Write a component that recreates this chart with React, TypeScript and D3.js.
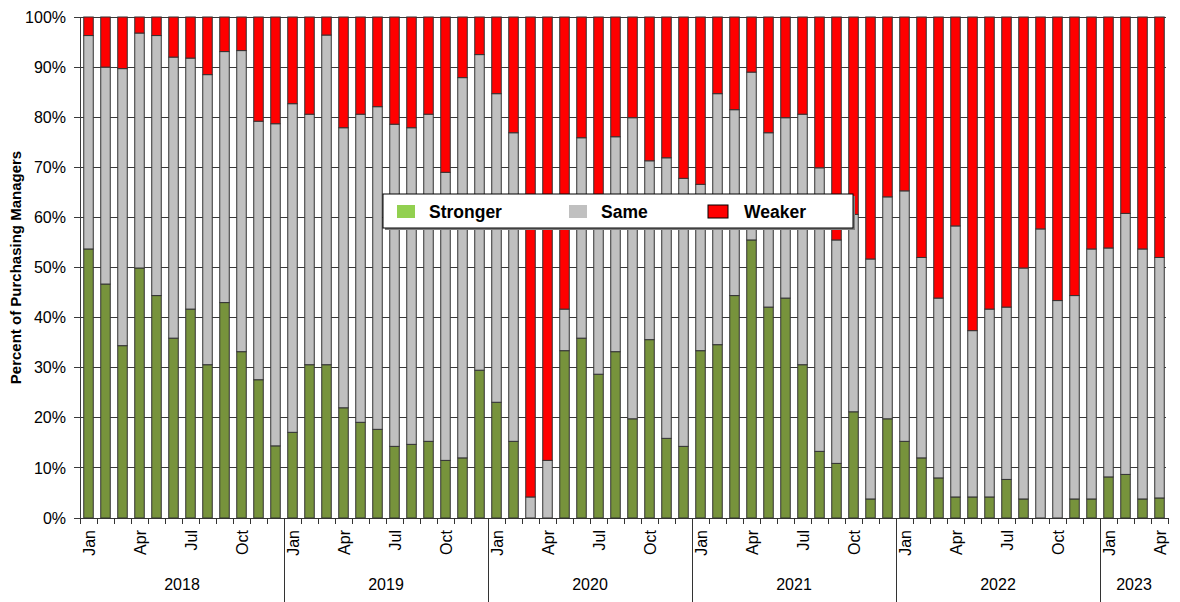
import * as d3 from "d3";

// monthly survey shares, Jan 2018 - Apr 2023 (percent of purchasing managers)
const years = ["2018", "2019", "2020", "2021", "2022", "2023"];
const monthNames = ["Jan", "Feb", "Mar", "Apr", "May", "Jun", "Jul", "Aug", "Sep", "Oct", "Nov", "Dec"];
const shownMonths = ["Jan", "Apr", "Jul", "Oct"];

const stronger = [
  53.7, 46.7, 34.4, 49.9, 44.4, 35.9, 41.7, 30.6, 43.0, 33.2, 27.6, 14.4,
  17.1, 30.6, 30.6, 22.0, 19.1, 17.7, 14.3, 14.7, 15.3, 11.5, 12.0, 29.5,
  23.1, 15.3, 0, 0, 33.4, 35.9, 28.7, 33.2, 19.8, 35.6, 15.9, 14.3,
  33.4, 34.6, 44.4, 55.5, 42.1, 43.9, 30.6, 13.3, 10.9, 21.2, 3.8, 19.8,
  15.3, 12.0, 8.0, 4.2, 4.2, 4.2, 7.7, 3.8, 0, 0, 3.8, 3.8,
  8.2, 8.7, 3.8, 4.0,
];
const same = [
  42.6, 43.3, 55.3, 46.9, 51.9, 56.1, 50.1, 57.9, 50.1, 60.1, 51.6, 64.3,
  65.6, 50.0, 65.8, 55.9, 61.5, 64.4, 64.3, 63.2, 65.3, 57.5, 75.9, 63.0,
  61.6, 61.6, 4.2, 11.5, 8.3, 40.0, 33.3, 42.9, 60.1, 35.7, 56.0, 53.5,
  33.2, 50.1, 37.1, 33.5, 34.8, 36.0, 50.0, 56.6, 44.6, 39.4, 47.9, 44.3,
  50.0, 40.0, 35.9, 54.1, 33.2, 37.5, 34.4, 46.1, 57.7, 43.4, 40.6, 49.9,
  45.7, 52.1, 49.9, 48.0,
];
const weaker = [
  3.7, 10.0, 10.3, 3.2, 3.7, 8.0, 8.2, 11.5, 6.9, 6.7, 20.8, 21.3,
  17.3, 19.4, 3.6, 22.1, 19.4, 17.9, 21.4, 22.1, 19.4, 31.0, 12.1, 7.5,
  15.3, 23.1, 95.8, 88.5, 58.3, 24.1, 38.0, 23.9, 20.1, 28.7, 28.1, 32.2,
  33.4, 15.3, 18.5, 11.0, 23.1, 20.1, 19.4, 30.1, 44.5, 39.4, 48.3, 35.9,
  34.7, 48.0, 56.1, 41.7, 62.6, 58.3, 57.9, 50.1, 42.3, 56.6, 55.6, 46.3,
  46.1, 39.2, 46.3, 48.0,
];

const seriesKeys = ["Stronger", "Same", "Weaker"];
const barColors = ["#77933C", "#C0C0C0", "#FF0000"];
const legendColors = ["#92D050", "#C0C0C0", "#FF0000"];

const categories = years
  .flatMap((yr) => monthNames.map((m) => ({ key: `${m} ${yr}`, month: m, year: yr })))
  .slice(0, stronger.length);

const rows = categories.map((c, i) => ({
  key: c.key,
  Stronger: stronger[i],
  Same: same[i],
  Weaker: weaker[i],
}));

const W = 1180;
const H = 602;
const left = 80;
const right = 1168;
const bottom = 518;
const top = 17;
const font = "Arial, 'Liberation Sans', sans-serif";

export default function App() {
  const x = d3
    .scaleBand()
    .domain(categories.map((c) => c.key))
    .range([left, right])
    .paddingInner(0.44)
    .paddingOuter(0.22);
  const step = x.step();
  const y = d3.scaleLinear().domain([0, 100]).range([bottom, top]);
  const stacked = d3.stack().keys(seriesKeys)(rows as any);
  const yTicks = d3.range(0, 101, 10);
  const color = d3.scaleOrdinal<string, string>().domain(seriesKeys).range(barColors);

  const boundary = (i: number) => left + i * step;

  const yearGroups = years
    .map((yr) => {
      const idx = categories.map((c, i) => (c.year === yr ? i : -1)).filter((i) => i >= 0);
      return { yr, first: idx[0], last: idx[idx.length - 1] };
    })
    .filter((g) => g.first !== undefined);

  return (
    <svg
      width={W}
      height={H}
      style={{ position: "absolute", left: 0, top: 0, background: "#fff" }}
      fontFamily={font}
    >
      {/* gridlines */}
      <g shapeRendering="crispEdges">
        {yTicks.map((t) => (
          <line key={t} x1={left - 6} x2={right - 2} y1={y(t)} y2={y(t)} stroke="#3a3a3a" strokeWidth={1} />
        ))}
        <line x1={left} x2={left} y1={top} y2={bottom} stroke="#3a3a3a" />
      </g>

      {/* bars */}
      {stacked.map((s) => (
        <g key={s.key} fill={color(s.key)} stroke="#333" strokeWidth={1}>
          {s.map((d, i) =>
            d[1] - d[0] > 0 ? (
              <rect
                key={i}
                x={x(categories[i].key)}
                width={x.bandwidth()}
                y={y(d[1])}
                height={y(d[0]) - y(d[1])}
              />
            ) : null
          )}
        </g>
      ))}

      {/* x axis */}
      <g stroke="#333" shapeRendering="crispEdges">
        <line x1={left} x2={right} y1={bottom} y2={bottom} />
        {d3.range(0, categories.length + 1).map((i) => {
          const isYear = i > 0 && i < categories.length && categories[i].month === "Jan";
          return (
            <line key={i} x1={boundary(i)} x2={boundary(i)} y1={bottom} y2={isYear ? H : bottom + 6} />
          );
        })}
      </g>

      {/* month labels */}
      <g fontSize={16} fill="#000">
        {categories.map((c, i) =>
          shownMonths.includes(c.month) ? (
            <text
              key={i}
              textAnchor="end"
              transform={`translate(${(x(c.key) as number) + x.bandwidth() / 2 + 6},${bottom + 12}) rotate(-90)`}
            >
              {c.month}
            </text>
          ) : null
        )}
      </g>

      {/* year labels */}
      <g fontSize={16} fill="#000" textAnchor="middle">
        {yearGroups.map((g) => (
          <text key={g.yr} x={(boundary(g.first) + boundary(g.last + 1)) / 2} y={590}>
            {g.yr}
          </text>
        ))}
      </g>

      {/* y axis labels */}
      <g fontSize={16} fill="#000" textAnchor="end">
        {yTicks.map((t) => (
          <text key={t} x={left - 14} y={y(t)} dy="0.35em">
            {`${t}%`}
          </text>
        ))}
      </g>
      <text
        transform={`translate(21,${(top + bottom) / 2}) rotate(-90)`}
        textAnchor="middle"
        fontSize={15}
        fontWeight="bold"
      >
        Percent of Purchasing Managers
      </text>

      {/* legend */}
      <g>
        <rect x={385} y={196} width={470} height={34} fill="#7f7f7f" />
        <rect x={383} y={194} width={470} height={34} fill="#fff" stroke="#000" strokeWidth={1} />
        {seriesKeys.map((k, i) => {
          const lx = [397, 569, 708][i];
          return (
            <g key={k}>
              <rect
                x={lx}
                y={205}
                width={i === 2 ? 20 : 18}
                height={13}
                fill={legendColors[i]}
                stroke={i === 2 ? "#000" : "none"}
              />
              <text x={lx + (i === 2 ? 36 : 32)} y={218} fontSize={17.5} fontWeight="bold">
                {k}
              </text>
            </g>
          );
        })}
      </g>
    </svg>
  );
}
